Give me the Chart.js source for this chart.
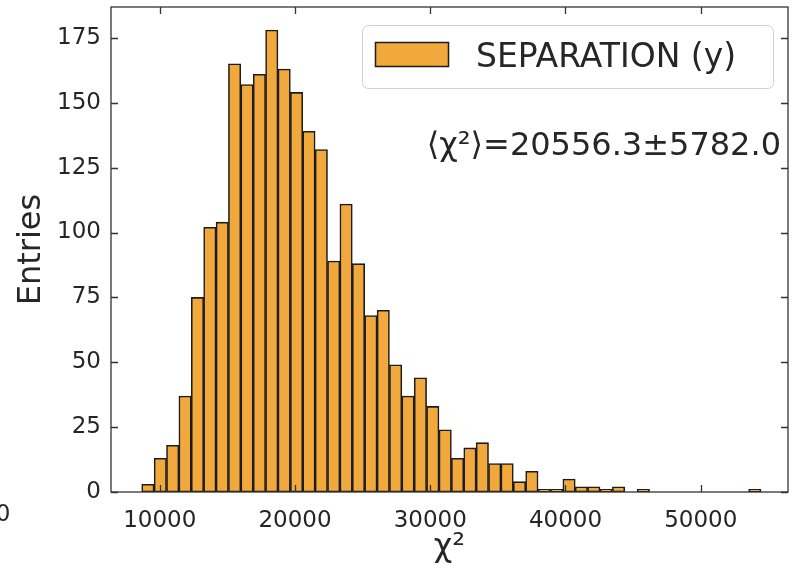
<!DOCTYPE html>
<html>
<head>
<meta charset="utf-8">
<script src="https://cdn.jsdelivr.net/npm/chart.js@4.4.1/dist/chart.umd.min.js"></script>
<style>
  html, body { margin: 0; padding: 0; background: #fff; }
  #hist { display: block; }
</style>
</head>
<body>
<canvas id="hist" width="792" height="570"></canvas>
<script>
// chi2 histogram, 50 equal bins
const binLow = 8670;
const binWidth = 915.7;
const counts = [3, 13, 18, 37, 75, 102, 104, 165, 157, 161,
                178, 163, 154, 139, 132, 89, 111, 88, 68, 70,
                49, 37, 44, 33, 24, 13, 17, 19, 11, 11,
                4, 8, 1, 1, 5, 2, 2, 1, 2, 0,
                1, 0, 0, 0, 0, 0, 0, 0, 0, 1];
const xTicks = [10000, 20000, 30000, 40000, 50000];
const yTicks = [0, 25, 50, 75, 100, 125, 150, 175];
const seriesLabel = 'SEPARATION (y)';
const meanText = '\u27E8\u03C7\u00B2\u27E9=20556.3\u00B15782.0';

const FONT = 'DejaVu Sans';
const BAR_FILL = '#F1A83C';
const EDGE = '#1c1c1c';
const AXIS = '#333333';
const TEXT = '#262626';

const points = counts.map((c, i) => ({ x: binLow + binWidth * (i + 0.5), y: c }));

function roundRect(ctx, x, y, w, h, r) {
    ctx.beginPath();
    ctx.moveTo(x + r, y);
    ctx.arcTo(x + w, y, x + w, y + h, r);
    ctx.arcTo(x + w, y + h, x, y + h, r);
    ctx.arcTo(x, y + h, x, y, r);
    ctx.arcTo(x, y, x + w, y, r);
    ctx.closePath();
}

// box around the axes plus inward ticks on all four sides
const frame = {
    id: 'frame',
    afterDatasetsDraw(chart) {
        const { ctx, chartArea: a, scales: { x, y } } = chart;
        const len = 7;
        ctx.save();
        ctx.strokeStyle = AXIS;
        ctx.lineWidth = 1.3;
        ctx.strokeRect(a.left, a.top, a.right - a.left, a.bottom - a.top);
        ctx.beginPath();
        x.ticks.forEach(t => {
            const px = Math.round(x.getPixelForValue(t.value)) + 0.5;
            ctx.moveTo(px, a.bottom); ctx.lineTo(px, a.bottom - len);
            ctx.moveTo(px, a.top); ctx.lineTo(px, a.top + len);
        });
        y.ticks.forEach(t => {
            const py = Math.round(y.getPixelForValue(t.value)) + 0.5;
            ctx.moveTo(a.left, py); ctx.lineTo(a.left + len, py);
            ctx.moveTo(a.right, py); ctx.lineTo(a.right - len, py);
        });
        ctx.stroke();
        ctx.restore();
    }
};

// legend box in the upper right and the mean annotation below it
const legendBox = {
    id: 'legendBox',
    afterDraw(chart) {
        const { ctx } = chart;
        const ds = chart.data.datasets[0];
        ctx.save();
        roundRect(ctx, 362.5, 25.5, 411, 63, 6);
        ctx.fillStyle = 'rgba(255,255,255,0.85)';
        ctx.fill();
        ctx.strokeStyle = '#d0d0d0';
        ctx.lineWidth = 1;
        ctx.stroke();

        ctx.fillStyle = ds.backgroundColor;
        ctx.fillRect(375, 42, 74, 25);
        ctx.strokeStyle = EDGE;
        ctx.lineWidth = 1.5;
        ctx.strokeRect(375.5, 42.5, 73, 24);

        ctx.fillStyle = TEXT;
        ctx.font = `33px "${FONT}"`;
        ctx.textAlign = 'left';
        ctx.textBaseline = 'alphabetic';
        ctx.fillText(ds.label, 476, 67);

        ctx.font = `32px "${FONT}"`;
        ctx.textAlign = 'right';
        ctx.fillText(meanText, 781, 155);

        // stray tick label at the lower left edge
        ctx.font = `23px "${FONT}"`;
        ctx.textAlign = 'center';
        ctx.fillText('0', 3, 521);
        ctx.restore();
    }
};

new Chart(document.getElementById('hist'), {
    type: 'bar',
    data: {
        datasets: [{
            label: seriesLabel,
            data: points,
            backgroundColor: BAR_FILL,
            borderColor: EDGE,
            borderWidth: 1.6,
            borderSkipped: false,
            barPercentage: 1,
            categoryPercentage: 1
        }]
    },
    options: {
        responsive: false,
        animation: false,
        devicePixelRatio: 1,
        layout: { padding: { top: 7, right: 4, left: 0, bottom: 0 } },
        plugins: {
            legend: { display: false },
            tooltip: { enabled: false }
        },
        scales: {
            x: {
                type: 'linear',
                offset: false,
                min: 6398,
                max: 56450,
                grid: { display: false, drawTicks: false, offset: false },
                border: { display: false },
                afterBuildTicks: s => { s.ticks = xTicks.map(v => ({ value: v })); },
                afterFit: s => {
                    s.height = 78;
                    s.paddingLeft = 0;
                    s.paddingRight = 0;
                },
                ticks: {
                    padding: 15,
                    maxRotation: 0,
                    color: TEXT,
                    font: { family: FONT, size: 23 },
                    callback: v => String(v)
                },
                title: {
                    display: true,
                    text: '\u03C7\u00B2',
                    color: TEXT,
                    font: { family: FONT, size: 32 },
                    padding: { top: 0, bottom: 3 }
                }
            },
            y: {
                min: 0,
                max: 186.9,
                grid: { display: false, drawTicks: false },
                border: { display: false },
                afterBuildTicks: s => { s.ticks = yTicks.map(v => ({ value: v })); },
                afterFit: s => {
                    s.width = 111;
                    s.paddingTop = 0;
                    s.paddingBottom = 0;
                },
                ticks: {
                    padding: 10,
                    color: TEXT,
                    font: { family: FONT, size: 23 }
                },
                title: {
                    display: true,
                    text: 'Entries',
                    color: TEXT,
                    font: { family: FONT, size: 32 },
                    padding: { top: 12, bottom: 0 }
                }
            }
        }
    },
    plugins: [frame, legendBox]
});
</script>
</body>
</html>
